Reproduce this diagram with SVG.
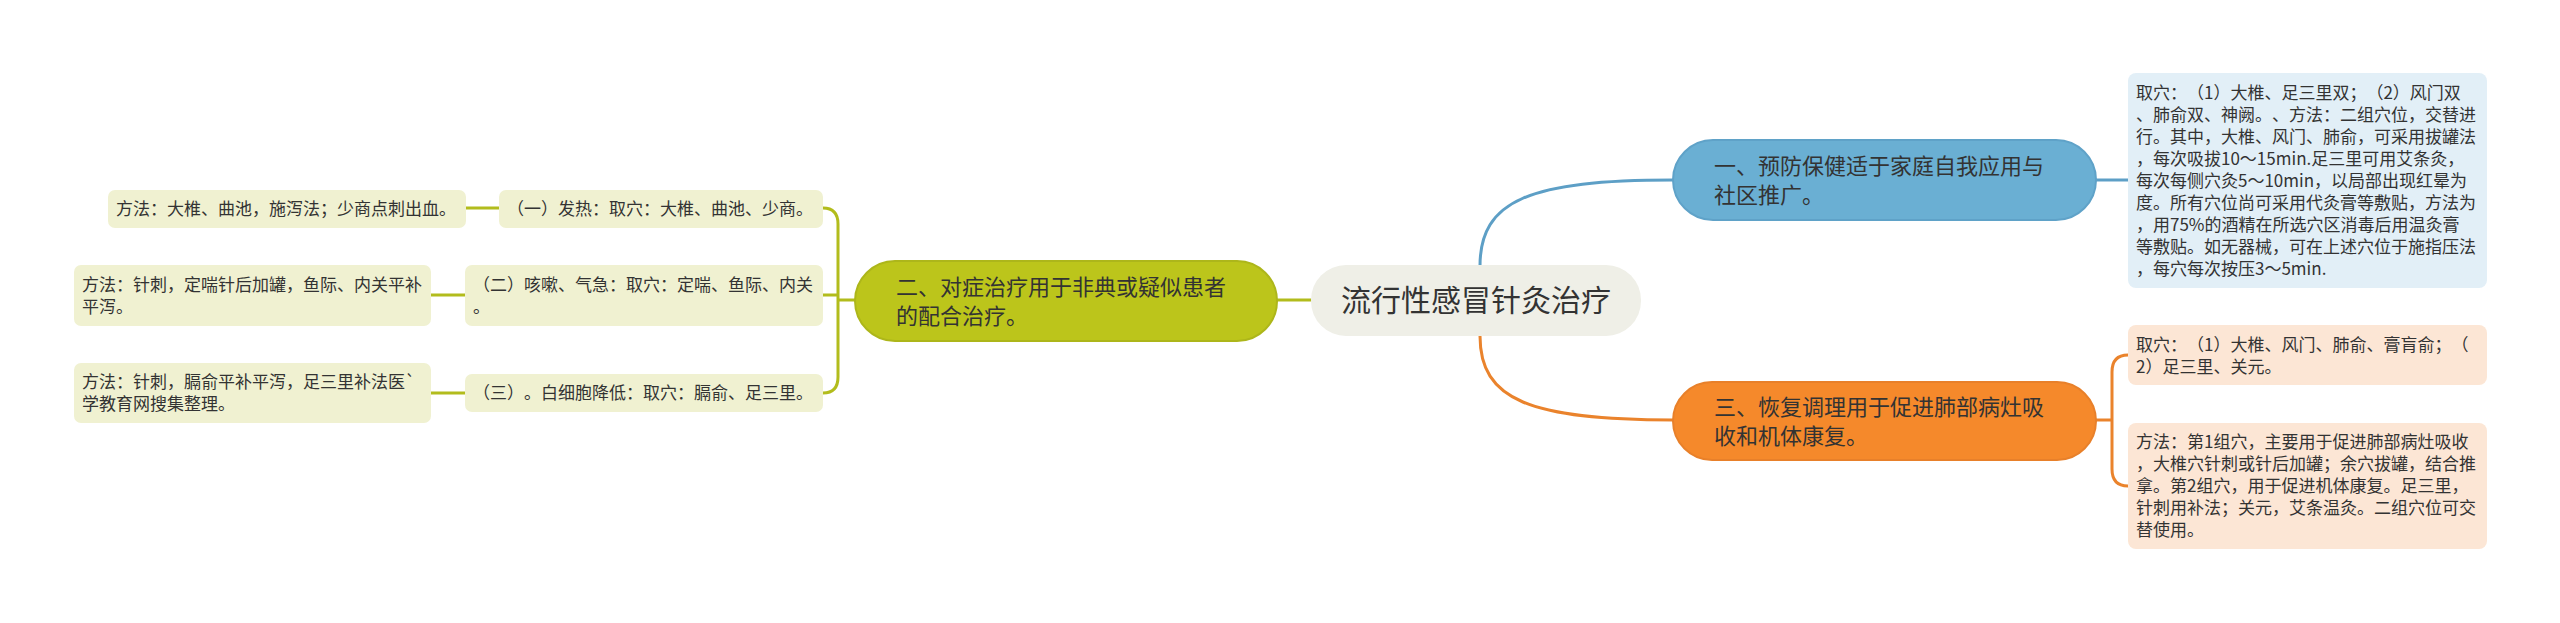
<svg xmlns="http://www.w3.org/2000/svg" width="2560" height="623" viewBox="0 0 2560 623">
<style>
text{font-family:"Noto Sans CJK SC","Noto Sans",sans-serif;fill:#333333;text-spacing-trim:space-all;font-feature-settings:"halt" 0,"chws" 0;}
.t17{font-size:17px;}
.t22{font-size:22px;}
.t29{font-size:30px;}
.gbox{fill:#f0f1d1;}
.bbox{fill:#e2eff7;}
.obox{fill:#fce6d5;}
.cg{fill:none;stroke:#b2bc1c;stroke-width:3;}
.cb{fill:none;stroke:#5d9fc6;stroke-width:3;}
.co{fill:none;stroke:#ea832c;stroke-width:3;}
</style>
<rect width="2560" height="623" fill="#ffffff"/>
<g id="connectors">
<path class="cb" d="M1480 266 C1480 200 1530 180 1673 180"/>
<path class="co" d="M1480 336 C1480 400 1530 420 1673 420"/>
<path class="cg" d="M1311 300 L1277 300"/>
<path class="cb" d="M2096 180 L2128 180"/>
<path class="co" d="M2096 420 L2112 420 M2128 355 Q2112 355 2112 372 L2112 469 Q2112 486 2128 486"/>
<path class="cg" d="M855 300 L838 300 M823 208 Q838 208 838 224 L838 377 Q838 393 823 393 M823 295 L838 295"/>
<path class="cg" d="M499 208 L466 208"/>
<path class="cg" d="M465 295 L431 295"/>
<path class="cg" d="M465 393 L431 393"/>
</g>
<g id="center">
<rect x="1311" y="265" width="330" height="71" rx="35" fill="#efefe7"/>
<text class="t29" x="1476" y="311" text-anchor="middle">流行性感冒针灸治疗</text>
</g>
<g id="n1">
<rect x="1673" y="140" width="423" height="80" rx="40" fill="#6aafd3" stroke="#5fa2c8" stroke-width="2"/>
<text class="t22"><tspan x="1714" y="174">一、预防保健适于家庭自我应用与</tspan><tspan x="1714" y="203">社区推广。</tspan></text>
</g>
<g id="n1a">
<rect class="bbox" x="2128" y="73" width="359" height="215" rx="8"/>
<text class="t17">
<tspan x="2136" y="99">取穴：（1）大椎、足三里双；（2）风门双</tspan>
<tspan x="2136" y="121">、肺俞双、神阙。、方法：二组穴位，交替进</tspan>
<tspan x="2136" y="143">行。其中，大椎、风门、肺俞，可采用拔罐法</tspan>
<tspan x="2136" y="165">，每次吸拔10～15min.足三里可用艾条灸，</tspan>
<tspan x="2136" y="187">每次每侧穴灸5～10min，以局部出现红晕为</tspan>
<tspan x="2136" y="209">度。所有穴位尚可采用代灸膏等敷贴，方法为</tspan>
<tspan x="2136" y="231">，用75%的酒精在所选穴区消毒后用温灸膏</tspan>
<tspan x="2136" y="253">等敷贴。如无器械，可在上述穴位于施指压法</tspan>
<tspan x="2136" y="275">，每穴每次按压3～5min.</tspan>
</text>
</g>
<g id="n3">
<rect x="1673" y="382" width="423" height="78" rx="39" fill="#f5892b" stroke="#e8802a" stroke-width="2"/>
<text class="t22"><tspan x="1714" y="415">三、恢复调理用于促进肺部病灶吸</tspan><tspan x="1714" y="444">收和机体康复。</tspan></text>
</g>
<g id="n3a">
<rect class="obox" x="2128" y="325" width="359" height="60" rx="8"/>
<text class="t17"><tspan x="2136" y="351">取穴：（1）大椎、风门、肺俞、膏肓俞；（</tspan><tspan x="2136" y="373">2）足三里、关元。</tspan></text>
</g>
<g id="n3b">
<rect class="obox" x="2128" y="423" width="359" height="126" rx="8"/>
<text class="t17">
<tspan x="2136" y="448">方法：第1组穴，主要用于促进肺部病灶吸收</tspan>
<tspan x="2136" y="470">，大椎穴针刺或针后加罐；余穴拔罐，结合推</tspan>
<tspan x="2136" y="492">拿。第2组穴，用于促进机体康复。足三里，</tspan>
<tspan x="2136" y="514">针刺用补法；关元，艾条温灸。二组穴位可交</tspan>
<tspan x="2136" y="536">替使用。</tspan>
</text>
</g>
<g id="n2">
<rect x="855" y="261" width="422" height="80" rx="40" fill="#bcc51b" stroke="#adb61a" stroke-width="2"/>
<text class="t22"><tspan x="896" y="295">二、对症治疗用于非典或疑似患者</tspan><tspan x="896" y="324">的配合治疗。</tspan></text>
</g>
<g id="n2a">
<rect class="gbox" x="499" y="190" width="324" height="38" rx="7"/>
<text class="t17" x="507" y="215">（一）发热：取穴：大椎、曲池、少商。</text>
</g>
<g id="n2a1">
<rect class="gbox" x="108" y="190" width="358" height="38" rx="7"/>
<text class="t17" x="116" y="215">方法：大椎、曲池，施泻法；少商点刺出血。</text>
</g>
<g id="n2b">
<rect class="gbox" x="465" y="265" width="358" height="61" rx="7"/>
<text class="t17"><tspan x="473" y="291">（二）咳嗽、气急：取穴：定喘、鱼际、内关</tspan><tspan x="473" y="313">。</tspan></text>
</g>
<g id="n2b1">
<rect class="gbox" x="74" y="265" width="357" height="61" rx="7"/>
<text class="t17"><tspan x="82" y="291">方法：针刺，定喘针后加罐，鱼际、内关平补</tspan><tspan x="82" y="313">平泻。</tspan></text>
</g>
<g id="n2c">
<rect class="gbox" x="465" y="374" width="358" height="38" rx="7"/>
<text class="t17" x="473" y="399">（三）。白细胞降低：取穴：膈俞、足三里。</text>
</g>
<g id="n2c1">
<rect class="gbox" x="74" y="363" width="357" height="60" rx="7"/>
<text class="t17"><tspan x="82" y="388">方法：针刺，膈俞平补平泻，足三里补法医`</tspan><tspan x="82" y="410">学教育网搜集整理。</tspan></text>
</g>
</svg>
